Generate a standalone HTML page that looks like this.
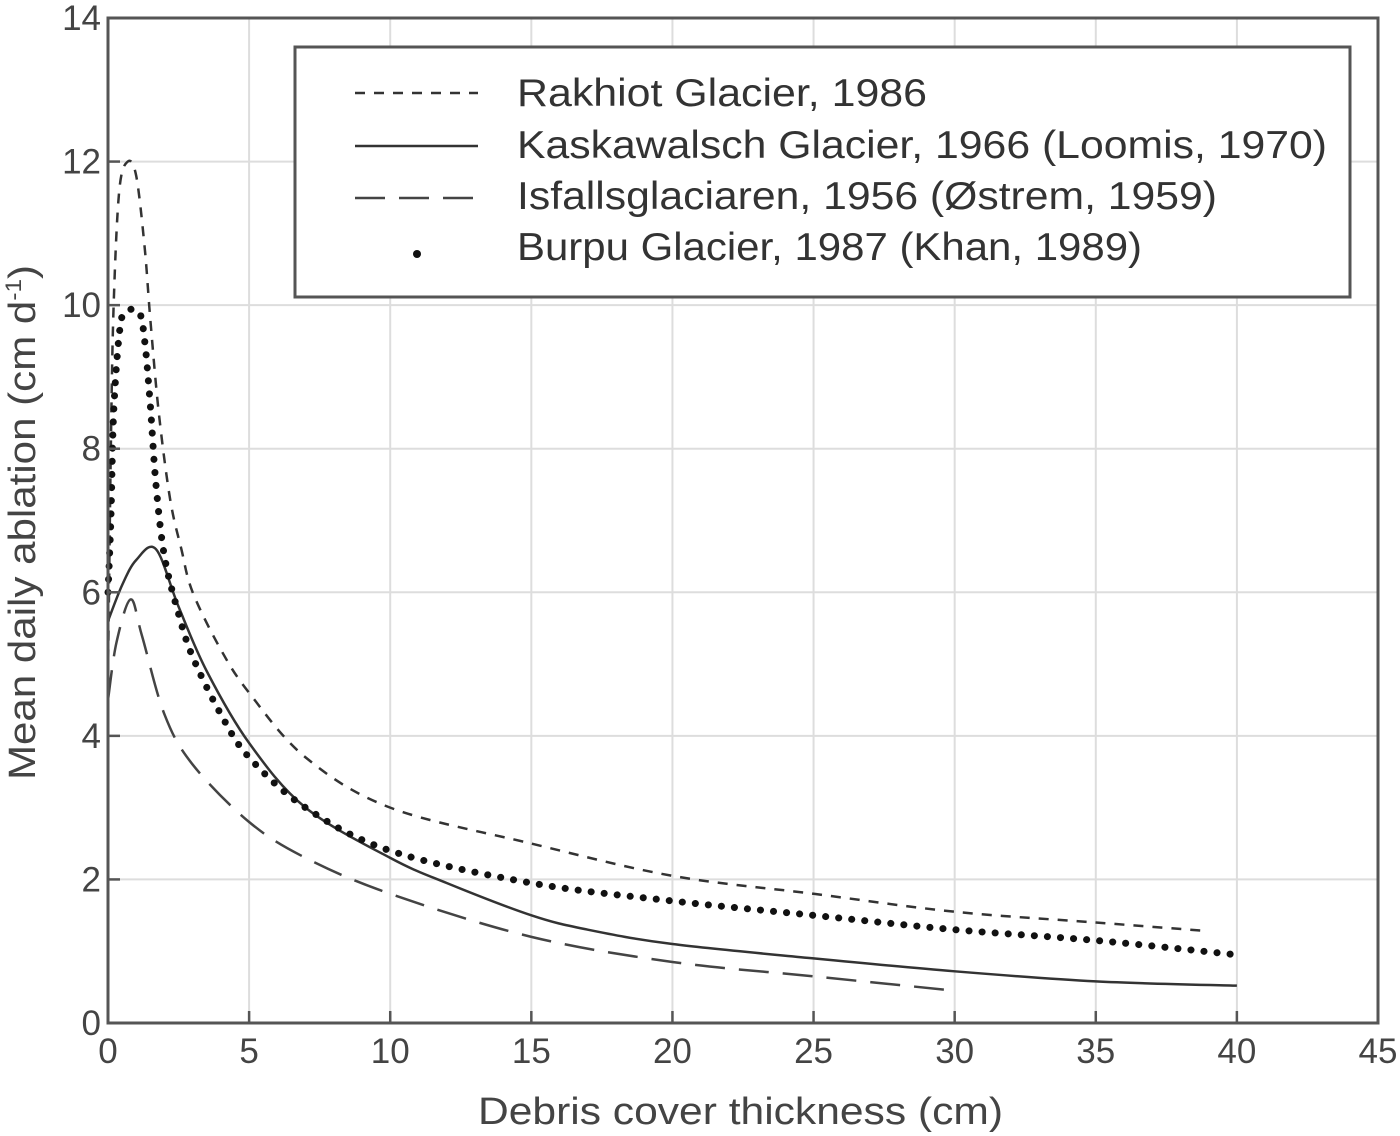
<!DOCTYPE html>
<html><head><meta charset="utf-8"><style>
body{margin:0;background:#fff}
svg{display:block;font-family:"Liberation Sans",sans-serif}
</style></head><body>
<svg id="chart" width="1400" height="1136" viewBox="0 0 1400 1136">
<g id="grid"></g>
<g id="series"></g>
<rect x="108" y="18" width="1270" height="1005" fill="none" stroke="#555" stroke-width="3"/>
<g id="ticks"></g>
<text x="478" y="1124" font-size="38" fill="#444" textLength="525" lengthAdjust="spacingAndGlyphs">Debris cover thickness (cm)</text>
<text transform="translate(35,780) rotate(-90)" font-size="38" fill="#444" textLength="515" lengthAdjust="spacingAndGlyphs">Mean daily ablation (cm d<tspan font-size="22" dy="-14">-1</tspan><tspan dy="14">)</tspan></text>
<g>
<rect x="295" y="47" width="1055" height="250" fill="#fff" stroke="#555" stroke-width="3"/>
<line x1="355" y1="93" x2="478" y2="93" stroke="#333" stroke-width="2.5" stroke-dasharray="10,9"/>
<text x="517" y="106" font-size="39" fill="#333" textLength="410" lengthAdjust="spacingAndGlyphs">Rakhiot Glacier, 1986</text>
<line x1="355" y1="146" x2="478" y2="146" stroke="#333" stroke-width="2.5"/>
<text x="517" y="158" font-size="39" fill="#333" textLength="810" lengthAdjust="spacingAndGlyphs">Kaskawalsch Glacier, 1966 (Loomis, 1970)</text>
<line x1="355" y1="198" x2="478" y2="198" stroke="#444" stroke-width="2.5" stroke-dasharray="30,14"/>
<text x="517" y="209" font-size="39" fill="#333" textLength="700" lengthAdjust="spacingAndGlyphs">Isfallsglaciaren, 1956 (Østrem, 1959)</text>
<circle cx="417" cy="254" r="4" fill="#111"/>
<text x="517" y="260" font-size="39" fill="#333" textLength="625" lengthAdjust="spacingAndGlyphs">Burpu Glacier, 1987 (Khan, 1989)</text>
</g>
</svg>
<script>
const xTicks=[0,5,10,15,20,25,30,35,40,45];
const yTicks=[0,2,4,6,8,10,12,14];
const rakX=[0,0.1,0.2,0.4,0.7,1.0,1.3,1.5,1.8,2.2,2.6,3,4,5,7,10,15,20,25,30,35,39];
const rakY=[4.8,8,10,11.6,12.0,11.8,10.8,9.8,8.5,7.3,6.6,6,5.2,4.6,3.7,3.0,2.5,2.05,1.8,1.55,1.4,1.28];
const kasX=[0,0.5,1,1.7,2.5,3.5,5,7,10,12,15,17,20,25,30,35,40];
const kasY=[5.6,6.1,6.45,6.6,5.8,4.9,3.9,3.0,2.3,1.95,1.5,1.3,1.1,0.9,0.72,0.58,0.52];
const isfX=[0,0.3,0.8,1.2,2,3,5,7,10,15,20,25,30];
const isfY=[4.5,5.3,5.9,5.4,4.3,3.6,2.8,2.3,1.8,1.2,0.85,0.65,0.45];
const burX=[0,0.1,0.2,0.4,0.6,1.1,1.3,1.5,1.7,2,2.5,3,4,5,7,10,15,20,25,30,35,40];
const burY=[6,7,8.5,9.6,9.9,9.9,9.5,8.6,7.5,6.5,5.7,5.1,4.3,3.7,3.0,2.4,1.95,1.7,1.5,1.3,1.15,0.95];
const NS='http://www.w3.org/2000/svg';
const X=v=>108+v*1270/45, Y=v=>1023-v*1005/14;
function mk(tag,attrs,parent){const e=document.createElementNS(NS,tag);for(const k in attrs)e.setAttribute(k,attrs[k]);parent.appendChild(e);return e;}
const grid=document.getElementById('grid'),ticks=document.getElementById('ticks'),ser=document.getElementById('series');
xTicks.forEach(t=>{
 const l=mk('line',{x1:X(t),x2:X(t),y1:18,y2:1023,stroke:'#ddd','stroke-width':2},grid);
 
 
 const tk=mk('line',{x1:X(t),x2:X(t),y1:1023,y2:1011,stroke:'#555','stroke-width':2.5},ticks);
 
 
 const tx=mk('text',{x:X(t),y:1063,'font-size':35,fill:'#444','text-anchor':'middle'},ticks);
 tx.textContent=t;
 
 
});
yTicks.forEach(t=>{
 const l=mk('line',{x1:108,x2:1378,y1:Y(t),y2:Y(t),stroke:'#ddd','stroke-width':2},grid);
 
 
 const tk=mk('line',{x1:108,x2:120,y1:Y(t),y2:Y(t),stroke:'#555','stroke-width':2.5},ticks);
 
 
 const tx=mk('text',{x:101,y:Y(t)+12,'font-size':35,fill:'#444','text-anchor':'end'},ticks);
 tx.textContent=t;
 
 
});
function path(xs,ys){
 const p=xs.map((x,i)=>[X(x),Y(ys[i])]);
 let d='M'+p[0][0]+','+p[0][1];
 for(let i=0;i<p.length-1;i++){
  const p0=p[i-1]||p[i],p1=p[i],p2=p[i+1],p3=p[i+2]||p2;
  const c1=[p1[0]+(p2[0]-p0[0])/6,p1[1]+(p2[1]-p0[1])/6],c2=[p2[0]-(p3[0]-p1[0])/6,p2[1]-(p3[1]-p1[1])/6];
  d+=' C'+c1+' '+c2+' '+p2;
 }
 return d;
}
const r=mk('path',{d:path(rakX,rakY),fill:'none',stroke:'#333','stroke-width':2.5,'stroke-dasharray':'10,9'},ser);


const k=mk('path',{d:path(kasX,kasY),fill:'none',stroke:'#333','stroke-width':2.5},ser);


const s=mk('path',{d:path(isfX,isfY),fill:'none',stroke:'#444','stroke-width':2.5,'stroke-dasharray':'30,14'},ser);


const b=mk('path',{d:path(burX,burY),fill:'none',stroke:'#111','stroke-width':7,'stroke-linecap':'round','stroke-dasharray':'0.1,13'},ser);


</script>
</body></html>
